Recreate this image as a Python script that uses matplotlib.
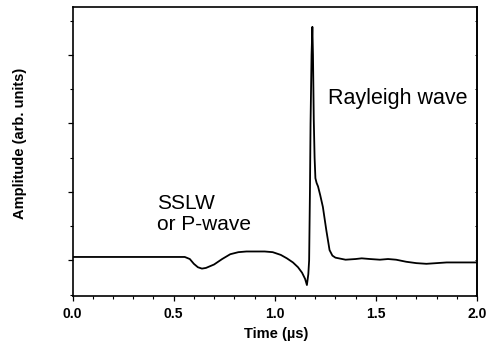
import matplotlib
matplotlib.use("Agg")
import matplotlib.pyplot as plt
from matplotlib.ticker import MultipleLocator, NullFormatter, FormatStrFormatter

plt.rcParams['font.family'] = ['Liberation Sans', 'DejaVu Sans']

# Signal trace (time in µs, amplitude in arb. units)
time_us = [0.00, 0.10, 0.20, 0.30, 0.40, 0.50, 0.555, 0.58, 0.60, 0.62, 0.64,
           0.66, 0.70, 0.74, 0.78, 0.82, 0.86, 0.90, 0.95, 0.99, 1.03, 1.06,
           1.09, 1.115, 1.135, 1.150, 1.159, 1.166, 1.170, 1.174, 1.177,
           1.182, 1.186, 1.189, 1.193, 1.197, 1.201, 1.207, 1.214, 1.225,
           1.238, 1.255, 1.271, 1.285, 1.30, 1.35, 1.40, 1.43, 1.47, 1.52,
           1.56, 1.60, 1.65, 1.70, 1.75, 1.80, 1.85, 1.90, 1.95, 2.00]
amplitude = [0.05, 0.05, 0.05, 0.05, 0.05, 0.05, 0.05, 0.02, -0.05, -0.10, -0.12,
             -0.11, -0.06, 0.02, 0.09, 0.12, 0.13, 0.13, 0.13, 0.12, 0.08, 0.03,
             -0.03, -0.10, -0.18, -0.27, -0.36, -0.20, 0.00, 1.00, 2.00,
             3.00, 3.41, 3.00, 2.05, 1.50, 1.20, 1.13, 1.08, 0.95,
             0.78, 0.44, 0.15, 0.07, 0.04, 0.01, 0.02, 0.03, 0.02, 0.01,
             0.02, 0.01, -0.02, -0.04, -0.05, -0.04, -0.03, -0.03, -0.03, -0.03]

xlabel = "Time (µs)"
ylabel = "Amplitude (arb. units)"
label_sslw = ["SSLW", "or P-wave"]
label_rayleigh = "Rayleigh wave"

fig = plt.figure(figsize=(4.87, 3.47), dpi=100)
ax = fig.add_axes([72.5/487, 51/347, 404.5/487, 289/347])

ax.plot(time_us, amplitude, color='black', lw=1.3)

ax.set_xlim(0, 2.0)
ax.set_ylim(-0.52, 3.70)

ax.xaxis.set_major_locator(MultipleLocator(0.5))
ax.xaxis.set_minor_locator(MultipleLocator(0.1))
ax.yaxis.set_major_locator(MultipleLocator(1.0))
ax.yaxis.set_minor_locator(MultipleLocator(0.5))
ax.yaxis.set_major_formatter(NullFormatter())
ax.xaxis.set_major_formatter(FormatStrFormatter('%.1f'))

for s in ax.spines.values():
    s.set_linewidth(1.2)

ax.tick_params(axis='x', which='major', direction='out', length=3.5, width=0.9,
               pad=4.5, labelsize=10)
ax.tick_params(axis='x', which='minor', direction='out', length=1.8, width=0.8)
ax.tick_params(axis='y', which='major', direction='out', length=3.8, width=0.9,
               left=True, right=False, labelleft=False)
ax.tick_params(axis='y', which='minor', direction='out', length=2.2, width=0.8,
               left=True, right=False)
for lab in ax.get_xticklabels():
    lab.set_fontweight('bold')

# small inward ticks on the right spine
sec = ax.secondary_yaxis('right')
sec.yaxis.set_major_locator(MultipleLocator(1.0))
sec.yaxis.set_minor_locator(MultipleLocator(0.5))
sec.yaxis.set_major_formatter(NullFormatter())
sec.tick_params(which='both', direction='in', length=1.8, width=0.7)
sec.spines['right'].set_linewidth(1.2)

ax.set_xlabel(xlabel, fontsize=10.5, fontweight='bold')
ax.xaxis.set_label_coords(0.503, -0.107)
ax.set_ylabel(ylabel, fontsize=10.5, fontweight='bold')
ax.yaxis.label.set_va('center')
ax.yaxis.set_label_coords(-0.131, 0.528)

ax.text(0.418, 0.747, label_sslw[0], fontsize=15, va='baseline', ha='left')
ax.text(0.418, 0.44, label_sslw[1], fontsize=15, va='baseline', ha='left')
ax.text(1.262, 2.284, label_rayleigh, fontsize=15.5, va='baseline', ha='left')

fig.savefig("out.png", dpi=100)
